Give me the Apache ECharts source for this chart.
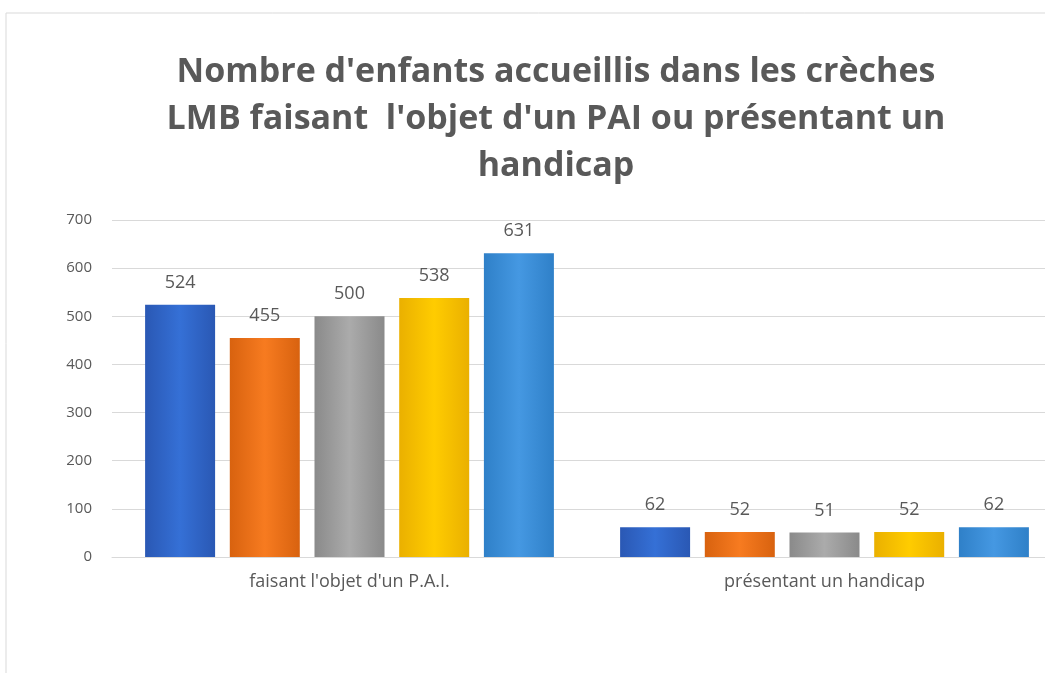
<!DOCTYPE html>
<html><head><meta charset="utf-8">
<script src="https://cdn.jsdelivr.net/npm/echarts@6/dist/echarts.min.js"></script>
<style>html,body{margin:0;padding:0;background:#fff;overflow:hidden}#c{width:1070px;height:673px}</style>
</head><body><div id="c"></div>
<script>
const categories = ["faisant l'objet d'un P.A.I.", "présentant un handicap"];
const serie1 = [524, 62];
const serie2 = [455, 52];
const serie3 = [500, 51];
const serie4 = [538, 52];
const serie5 = [631, 62];
const yTicks = [0, 100, 200, 300, 400, 500, 600, 700];

const seriesNames = ["Série 1", "Série 2", "Série 3", "Série 4", "Série 5"];
const seriesData = [serie1, serie2, serie3, serie4, serie5];
const palette = [
  ['#2a58b4', '#3570d6', '#2a58b4'],
  ['#d8620f', '#f77b20', '#d8620f'],
  ['#8a8a8a', '#ababab', '#8a8a8a'],
  ['#eab000', '#ffcc00', '#eab000'],
  ['#2f80c8', '#4598e2', '#2f80c8']
];
function grad(c){
  return new echarts.graphic.LinearGradient(0,0,1,0,[
    {offset:0,color:c[0]},{offset:0.5,color:c[1]},{offset:1,color:c[2]}]);
}
const chart = echarts.init(document.getElementById('c'));
chart.setOption({
  animation:false,
  backgroundColor:'#fff',
  title:{
    text:"Nombre d'enfants accueillis dans les crèches\nLMB faisant  l'objet d'un PAI ou présentant un\nhandicap",
    left:551, top:44, textAlign:'center',
    textStyle:{fontFamily:'Open Sans', fontWeight:'bold', fontSize:34, color:'#595959', lineHeight:47}
  },
  graphic:[{type:'rect', shape:{x:6,y:13,width:1100,height:700}, style:{fill:'none', stroke:'#d9d9d9', lineWidth:1}, silent:true}],
  grid:{left:112, top:220, bottom:116, right:8},
  xAxis:{
    type:'category', data:categories,
    axisLine:{lineStyle:{color:'#d9d9d9'}}, axisTick:{show:false},
    axisLabel:{color:'#595959', fontSize:18, fontFamily:'Open Sans', margin:16}
  },
  yAxis:{
    type:'value', min:0, max:700, interval:100,
    axisLine:{show:false}, axisTick:{show:false},
    splitLine:{lineStyle:{color:'#d9d9d9'}},
    axisLabel:{color:'#595959', fontSize:15, fontFamily:'Open Sans', margin:20,
      formatter:function(v){return yTicks.indexOf(v)>=0?String(v):'';}}
  },
  series: seriesData.map(function(d,i){return {
    name:seriesNames[i], type:'bar', data:d, barWidth:70, barGap:'21%',
    itemStyle:{color:grad(palette[i])},
    label:{show:true, position:'top', distance:13, color:'#595959', fontSize:18, fontFamily:'Open Sans'}
  };})
});
</script></body></html>
